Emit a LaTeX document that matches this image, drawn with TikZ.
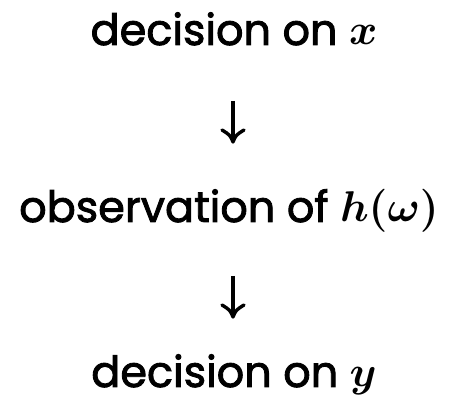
\documentclass[tikz,border=0pt]{standalone}
\usepackage{fix-cm}
\usepackage{fontspec}
\setmainfont{Poppins}[FakeBold=2]
\usetikzlibrary{calc}
\begin{document}
\begin{tikzpicture}[x=1pt,y=1pt,
  lbl/.style={anchor=base,inner sep=0pt,font=\fontsize{43}{48}\selectfont\boldmath},
  shaft/.style={line width=3.4pt},
  barb/.style={line width=3.4pt,line cap=round,line join=round}]
\useasboundingbox (0,0) rectangle (455,403);
\node[lbl] (a) at (234,358) {decision on $x$};
\node[lbl] (b) at (229,181) {observation of $h(\omega)$};
\node[lbl] (c) at (234,16) {decision on $y$};
\coordinate (a1) at (233,302);
\coordinate (a2) at (233,261);
\coordinate (b1) at (233,127);
\coordinate (b2) at (233,86);
\draw[shaft] (a1) -- ($(a2)+(0,2)$);
\draw[barb] ($(a2)+(-11,12)$) .. controls ($(a2)+(-3,7)$) .. (a2) .. controls ($(a2)+(3,7)$) .. ($(a2)+(11,12)$);
\draw[shaft] (b1) -- ($(b2)+(0,2)$);
\draw[barb] ($(b2)+(-11,12)$) .. controls ($(b2)+(-3,7)$) .. (b2) .. controls ($(b2)+(3,7)$) .. ($(b2)+(11,12)$);
\end{tikzpicture}
\end{document}
